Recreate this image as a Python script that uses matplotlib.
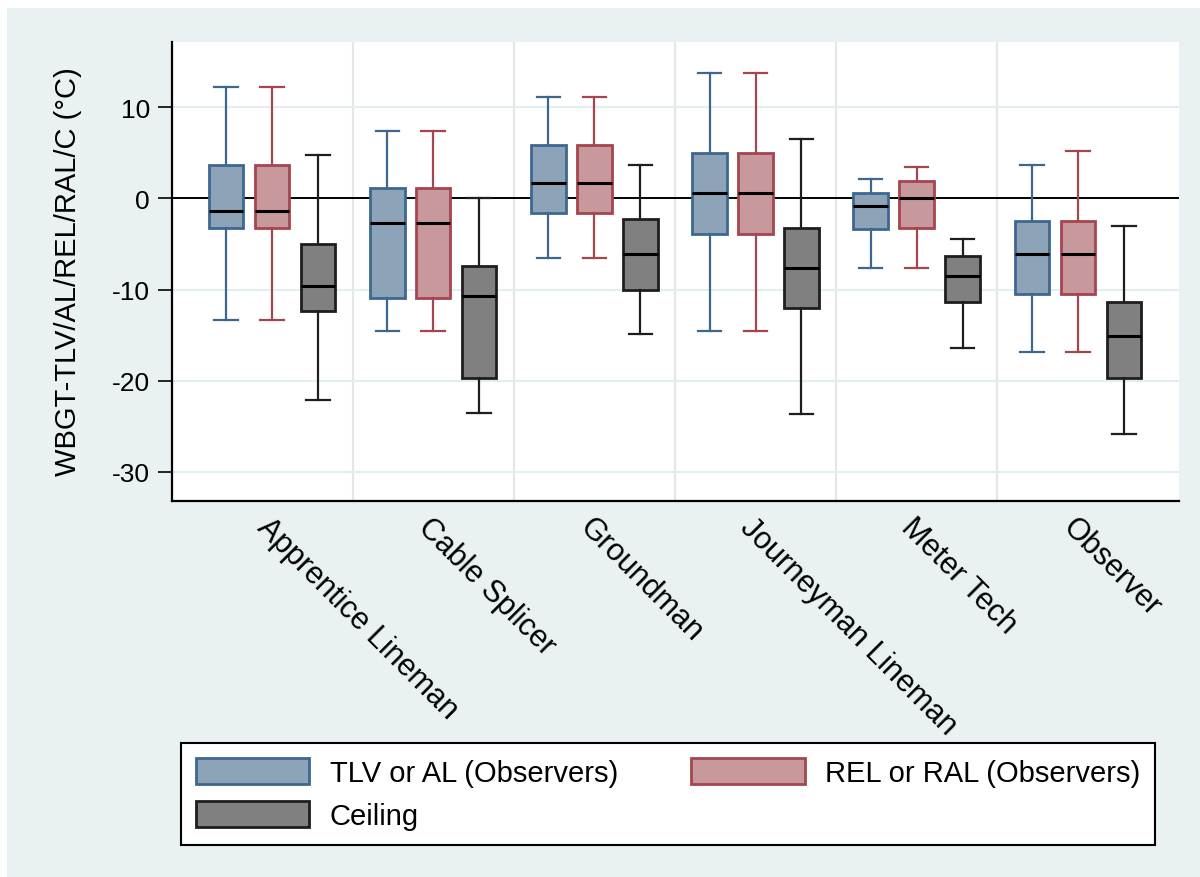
import matplotlib
matplotlib.use("Agg")
import matplotlib.pyplot as plt
from matplotlib.patches import Patch, Rectangle

plt.rcParams['font.family'] = ['Liberation Sans', 'DejaVu Sans']
plt.rcParams['axes.unicode_minus'] = False

categories = ["Apprentice Lineman", "Cable Splicer", "Groundman",
              "Journeyman Lineman", "Meter Tech", "Observer"]

# five-number summaries per job, in degrees C
tlv_hi = [12.2, 7.4, 11.1, 13.8, 2.1, 3.7]
tlv_q3 = [3.7, 1.2, 5.9, 5.0, 0.6, -2.5]
tlv_med = [-1.4, -2.7, 1.7, 0.6, -0.8, -6.1]
tlv_q1 = [-3.2, -10.9, -1.6, -3.9, -3.4, -10.5]
tlv_lo = [-13.3, -14.5, -6.5, -14.5, -7.6, -16.8]

rel_hi = [12.2, 7.4, 11.1, 13.8, 3.5, 5.2]
rel_q3 = [3.7, 1.2, 5.9, 5.0, 1.9, -2.5]
rel_med = [-1.4, -2.7, 1.7, 0.6, 0.0, -6.1]
rel_q1 = [-3.2, -10.9, -1.6, -3.9, -3.2, -10.5]
rel_lo = [-13.3, -14.5, -6.5, -14.5, -7.6, -16.8]

ceil_hi = [4.8, 0.0, 3.7, 6.5, -4.5, -3.0]
ceil_q3 = [-5.0, -7.4, -2.3, -3.2, -6.3, -11.4]
ceil_med = [-9.6, -10.7, -6.1, -7.6, -8.5, -15.1]
ceil_q1 = [-12.3, -19.7, -10.1, -12.0, -11.4, -19.7]
ceil_lo = [-22.1, -23.5, -14.9, -23.7, -16.4, -25.9]

series = [
    ("TLV or AL (Observers)", (tlv_lo, tlv_q1, tlv_med, tlv_q3, tlv_hi), "#8DA3B8", "#3E6790", -0.285),
    ("REL or RAL (Observers)", (rel_lo, rel_q1, rel_med, rel_q3, rel_hi), "#C8999C", "#A5454E", 0.0),
    ("Ceiling", (ceil_lo, ceil_q1, ceil_med, ceil_q3, ceil_hi), "#808080", "#1E1E1E", 0.285),
]

bg = "#EAF1F3"
fig = plt.figure(figsize=(12, 8.78), dpi=100, facecolor="white")
fig.patches.append(Rectangle((7 / 1200, 0), 1, 1 - 9 / 878, transform=fig.transFigure,
                             facecolor=bg, edgecolor="none", zorder=-10))

ax = fig.add_axes([172 / 1200, 1 - 502 / 878, 1007 / 1200, (502 - 42.7) / 878])
ax.set_facecolor("white")

for i in range(5):
    ax.axvline(i + 0.5, color="#E6E6E6", lw=1.5, zorder=0.5)
ax.axhline(0, color="black", lw=1.4, zorder=1.5)

handles = []
for name, (lo, q1, med, q3, hi), fill, edge, off in series:
    stats = [dict(whislo=lo[k], q1=q1[k], med=med[k], q3=q3[k], whishi=hi[k], fliers=[])
             for k in range(len(categories))]
    pos = [k + off for k in range(len(categories))]
    ax.bxp(stats, positions=pos, widths=0.215, capwidths=0.145, patch_artist=True,
           showfliers=False, manage_ticks=False, zorder=2,
           boxprops=dict(facecolor=fill, edgecolor=edge, linewidth=2.0),
           whiskerprops=dict(color=edge, linewidth=1.6),
           capprops=dict(color=edge, linewidth=1.6),
           medianprops=dict(color="black", linewidth=2.2))
    handles.append(Patch(facecolor=fill, edgecolor=edge, linewidth=2.0, label=name))

ax.set_xlim(-0.62, 5.627)
ax.set_ylim(-33.2, 17.2)
ax.set_yticks([-30, -20, -10, 0, 10])
ax.yaxis.grid(True, color="#E4EDF0", lw=1.5, zorder=0.4)
ax.set_axisbelow(True)
ax.tick_params(axis="y", length=10, width=1.2, pad=6, labelsize=19)
ax.set_xticks(range(len(categories)))
ax.set_xticklabels(categories, rotation=-45, ha="left", rotation_mode="anchor", fontsize=22)
ax.tick_params(axis="x", length=0, pad=8)

for side in ("top", "right"):
    ax.spines[side].set_visible(False)
for side in ("left", "bottom"):
    ax.spines[side].set_linewidth(1.6)
    ax.spines[side].set_color("black")

fig.text(68 / 1200, 1 - 272 / 878, "WBGT-TLV/AL/REL/RAL/C (°C)", rotation=90,
         ha="center", va="center", fontsize=21)

leg = fig.legend([handles[0], handles[2], handles[1]],
                 [handles[0].get_label(), handles[2].get_label(), handles[1].get_label()],
                 ncol=2, loc="upper left", bbox_to_anchor=(181 / 1200, 1 - 744 / 878),
                 fontsize=21, frameon=True, fancybox=False, framealpha=1,
                 edgecolor="black", handlelength=3.9, handleheight=1.0,
                 handletextpad=0.7, columnspacing=2.5, labelspacing=0.5,
                 borderpad=0.5, borderaxespad=0)
leg.get_frame().set_linewidth(1.5)

fig.savefig("out.png", dpi=100, facecolor=fig.get_facecolor())
